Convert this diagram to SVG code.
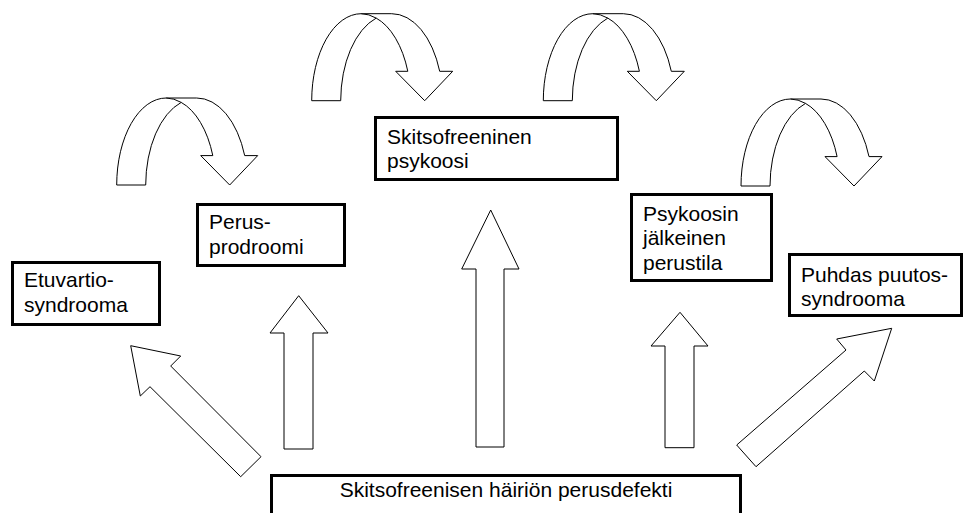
<svg xmlns="http://www.w3.org/2000/svg" xmlns:xlink="http://www.w3.org/1999/xlink" width="969" height="513" viewBox="0 0 969 513">
<style>
.box{fill:#fff;stroke:#000;stroke-width:3}
.arr{fill:#fff;stroke:#000;stroke-width:1;stroke-linejoin:miter}
.lbl{font-family:"Liberation Sans",Arial,sans-serif;font-size:21px;fill:#000}
</style>
<defs>
<g id="curved">
<path class="arr" d="M0,0 A49.5,87 0 0 1 49.5,-87 L80,-87 A51,87 0 0 1 128,-29.4 L141,-29.4 L113,0 L84,-29.4 L96.1,-29.4 A49.5,87 0 0 0 64.5,-82.6 A51,87 0 0 0 29,0 Z"/>
<path class="arr" fill="none" d="M49.5,-87 A49.5,87 0 0 1 64.5,-82.6"/>
</g>
</defs>
<rect width="969" height="513" fill="#fff"/>
<g id="connectors">
<use xlink:href="#curved" transform="translate(116.7,185)"/>
<use xlink:href="#curved" transform="translate(311.7,100.7)"/>
<use xlink:href="#curved" transform="translate(543.3,100.7)"/>
<use xlink:href="#curved" transform="translate(741,186)"/>
<polygon class="arr" points="284,449 284,333 270,333 298.7,295.7 328,333 313,333 313,449"/>
<polygon class="arr" points="476,447 476,269 461.7,269 490.7,210 519,269 504,269 504,447"/>
<polygon class="arr" points="665,447.7 665,346 651,346 680,312.3 708,346 694,346 694,447.7"/>
<polygon class="arr" points="130.7,345.7 180.7,356 170.7,366 261,456.7 240.7,476.7 150,386.7 140.3,396"/>
<polygon class="arr" points="736.7,445 846,350 836.7,339 891.7,328.3 874.3,381 864.3,371 756,466.7"/>
</g>
<g id="etuvartio">
<rect class="box" x="12.5" y="262.5" width="147" height="62"/>
<text class="lbl" x="24" y="287">Etuvartio-</text>
<text class="lbl" x="24" y="312">syndrooma</text>
</g>
<g id="perus">
<rect class="box" x="197.5" y="204.5" width="147" height="61"/>
<text class="lbl" x="209" y="229">Perus-</text>
<text class="lbl" x="209" y="254">prodroomi</text>
</g>
<g id="psykoosi">
<rect class="box" x="375.5" y="117.5" width="242" height="62"/>
<text class="lbl" x="387" y="144">Skitsofreeninen</text>
<text class="lbl" x="387" y="168">psykoosi</text>
</g>
<g id="jalkeinen">
<rect class="box" x="631.5" y="194.5" width="140" height="86"/>
<text class="lbl" x="643" y="221">Psykoosin</text>
<text class="lbl" x="643" y="245">jälkeinen</text>
<text class="lbl" x="643" y="270">perustila</text>
</g>
<g id="puhdas">
<rect class="box" x="789.5" y="254.5" width="172" height="61"/>
<text class="lbl" x="801" y="282">Puhdas puutos-</text>
<text class="lbl" x="801" y="306">syndrooma</text>
</g>
<g id="perusdefekti">
<rect class="box" x="271.5" y="475.5" width="469" height="50"/>
<text class="lbl" x="506" y="497" text-anchor="middle">Skitsofreenisen häiriön perusdefekti</text>
</g>
</svg>
